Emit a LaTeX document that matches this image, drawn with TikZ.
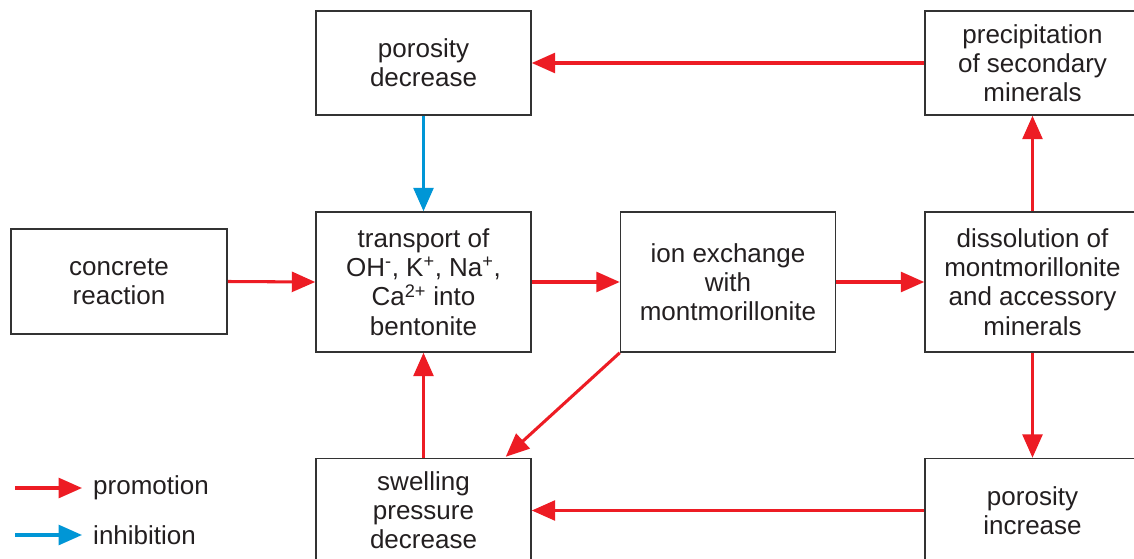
\documentclass[tikz,border=0pt]{standalone}
\usepackage{fontspec}
\setmainfont{Liberation Sans}
\usetikzlibrary{arrows.meta,calc}
\definecolor{promo}{RGB}{237,28,36}
\definecolor{inhib}{RGB}{0,150,214}
\definecolor{boxline}{RGB}{51,51,51}
\definecolor{txt}{RGB}{35,31,32}
\tikzset{
  box/.style={draw=boxline, line width=1.3pt, rectangle, align=center,
    text=txt, font=\fontsize{22.2pt}{24.9pt}\selectfont,
    minimum width=6.45cm, inner sep=0pt},
  boxs/.style={box, minimum height=3.12cm},
  boxt/.style={box, minimum height=4.2cm},
  prom/.style={draw=promo, line width=2.6pt, -{Triangle[length=20pt,width=17pt]}},
  inh/.style={draw=inhib, line width=2.6pt, -{Triangle[length=20pt,width=17pt]}},
  legtext/.style={anchor=west, inner sep=0pt, text=txt, font=\fontsize{22.2pt}{24.9pt}\selectfont}
}
\begin{document}
\begin{tikzpicture}[x=0.03cm,y=-0.03cm]
\useasboundingbox (0,0) rectangle (1134,559);
\clip (0,0) rectangle (1134,559);
\fill[white] (0,0) rectangle (1134,559);
% boxes
\node[boxs] (pdec) at (423.5,63) {porosity\\decrease};
\node[boxs] (prec) at (1032.5,63) {precipitation\\of secondary\\minerals};
\node[boxs, minimum width=6.48cm, minimum height=3.15cm] (conc) at (119,281.5) {concrete\\reaction};
\node[boxt] (trans) at (423.5,282) {transport of\\OH\textsuperscript{-}, K\textsuperscript{+}, Na\textsuperscript{+},\\Ca\textsuperscript{2+} into\\bentonite};
\node[boxt] (ion) at (728,282) {ion exchange\\with\\montmorillonite};
\node[boxt] (diss) at (1032.5,282) {dissolution of\\montmorillonite\\and accessory\\minerals};
\node[boxs] (swell) at (423.5,510.5) {swelling\\pressure\\decrease};
\node[boxs] (pinc) at (1032.5,510.5) {porosity\\increase};
% connectors
\draw[prom] (prec.west) -- (pdec.east);
\draw[inh] (pdec.south) -- (trans.north);
\draw[prom] (conc.east) -- (trans.west);
\draw[prom] (trans.east) -- (ion.west);
\draw[prom] (ion.east) -- (diss.west);
\draw[prom] (diss.north) -- (prec.south);
\draw[prom] (diss.south) -- (pinc.north);
\draw[prom] (pinc.west) -- (swell.east);
\draw[prom] (swell.north) -- (trans.south);
\coordinate (diagend) at ($(swell.north east)+(-26,-1)$);
\draw[prom] (ion.south west) -- (diagend);
% legend
\coordinate (l1s) at (15,488);
\coordinate (l1e) at (82,488);
\coordinate (l2s) at (15,535);
\coordinate (l2e) at (82,535);
\draw[prom] (l1s) -- (l1e);
\draw[inh] (l2s) -- (l2e);
\node[legtext] (lt1) at (93,488) {promotion};
\node[legtext] (lt2) at (93,535) {inhibition};
\end{tikzpicture}
\end{document}
